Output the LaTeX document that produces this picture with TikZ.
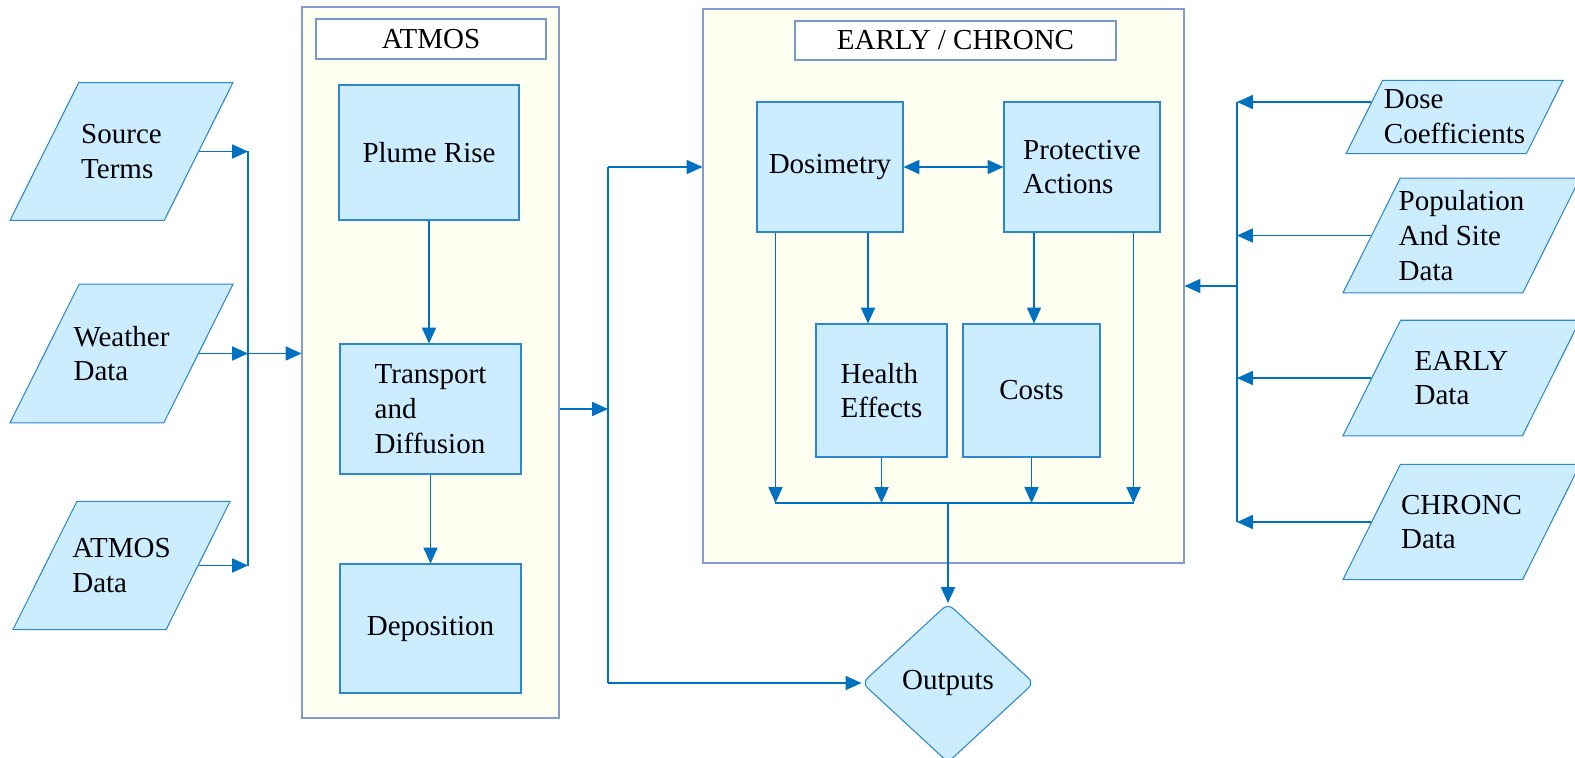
\documentclass[tikz,border=0pt]{standalone}
\usepackage{fontspec}
\setmainfont{Liberation Serif}
\usetikzlibrary{shapes.geometric,arrows.meta}

\definecolor{boxblue}{RGB}{204,236,255}
\definecolor{edgeblue}{RGB}{45,135,205}
\definecolor{lineblue}{RGB}{0,112,192}
\definecolor{panelfill}{RGB}{254,255,240}
\definecolor{panelline}{RGB}{130,155,212}
\definecolor{titleline}{RGB}{120,152,198}

\begin{document}
\begin{tikzpicture}[y=-1cm,
    font=\fontsize{16.5}{19.8}\selectfont,
    box/.style={draw=edgeblue,fill=boxblue,line width=0.6pt,align=left,inner sep=2pt},
    % height comes from inner ysep, so that the slant stays the same
    datain/.style={box,trapezium,trapezium left angle=63.5,trapezium right angle=116.5,
        trapezium stretches body,inner xsep=-5pt,inner ysep=#1},
    panel/.style={draw=panelline,fill=panelfill,line width=0.6pt},
    title/.style={draw=titleline,fill=white,line width=1pt},
    lin/.style={lineblue,line width=0.8pt},
    arr/.style={lin,-{Triangle[length=9pt,width=8pt]}},
    dbl/.style={lin,{Triangle[length=9pt,width=8pt]}-{Triangle[length=9pt,width=8pt]}}]
    \useasboundingbox (0,0) rectangle (31.5,15.16);

    % Panels:
    \node[panel,minimum width=5.14cm,minimum height=14.22cm] (atm) at (8.61,7.25) {};
    \node[panel,minimum width=9.62cm,minimum height=11.08cm] (ecc) at (18.87,5.72) {};
    \node[title,minimum width=4.60cm,minimum height=0.80cm] (atmt) at (8.62,0.78) {ATMOS};
    \node[title,minimum width=6.42cm,minimum height=0.78cm] (ecct) at (19.11,0.81) {EARLY / CHRONC};

    % Input data on the left:
    \node[datain=23.8pt,minimum width=4.46cm] (src) at (2.43,3.03) {Source\\Terms};
    \node[datain=23.75pt,minimum width=4.46cm] (wea) at (2.43,7.07) {Weather\\Data};
    \node[datain=21pt,minimum width=4.34cm] (atd) at (2.43,11.31) {ATMOS\\Data};

    % Input data on the right:
    \node[datain=5.5pt,minimum width=4.34cm] (dose) at (29.09,2.34) {Dose\\Coefficients};
    \node[datain=7.05pt,minimum width=4.74cm] (pop) at (29.23,4.71) {Population\\And Site\\Data};
    \node[datain=17.45pt,minimum width=4.74cm] (early) at (29.23,7.56) {EARLY\\Data};
    \node[datain=17.3pt,minimum width=4.74cm] (chronc) at (29.23,10.44) {CHRONC\\Data};

    % ATMOS steps:
    \node[box,minimum width=3.60cm,minimum height=2.70cm] (plu) at (8.58,3.05) {Plume Rise};
    \node[box,minimum width=3.62cm,minimum height=2.60cm] (tra) at (8.61,8.18) {Transport\\and\\Diffusion};
    \node[box,minimum width=3.62cm,minimum height=2.58cm] (dep) at (8.61,12.57) {Deposition};

    % EARLY / CHRONC steps:
    \node[box,minimum width=2.92cm,minimum height=2.60cm] (dos) at (16.60,3.34) {Dosimetry};
    \node[box,minimum width=3.12cm,minimum height=2.60cm] (pro) at (21.64,3.34) {Protective\\Actions};
    \node[box,minimum width=2.62cm,minimum height=2.66cm] (hea) at (17.63,7.81) {Health\\Effects};
    \node[box,minimum width=2.74cm,minimum height=2.66cm] (cos) at (20.63,7.81) {Costs};

    \node[box,diamond,aspect=1.08,minimum width=3.44cm,minimum height=3.18cm,
        rounded corners=4pt,inner sep=0pt] (out) at (18.96,13.66) {Outputs};

    % Buses:
    \coordinate (lbus) at (4.96,0);
    \coordinate (mbus) at (12.16,0);
    \coordinate (rbus) at (24.74,0);
    \coordinate (bbus) at (0,10.06);
    \coordinate (dl) at ([xshift=0.38cm]dos.south west);
    \coordinate (pr) at ([xshift=-0.54cm]pro.south east);
    \coordinate (dosein) at ([xshift=0.15cm,yshift=0.3cm]dose.west);

    % left inputs into ATMOS
    \foreach \n in {src,wea,atd}
        \draw[arr] (\n.east) -- (\n.east -| lbus);
    \draw[lin] (src.east -| lbus) -- (atd.east -| lbus);
    \draw[arr] (wea.east -| lbus) -- (wea.east -| atm.west);

    % ATMOS chain
    \draw[arr] (plu.south) -- (plu.south |- tra.north);
    \draw[arr] (tra.south) -- (dep.north);

    % ATMOS to EARLY / CHRONC and outputs
    \draw[arr] (tra -| atm.east) -- (tra -| mbus);
    \draw[lin] (mbus |- dos) -- (mbus |- out);
    \draw[arr] (mbus |- dos) -- (dos -| ecc.west);
    \draw[arr] (mbus |- out) -- (out.west);

    % inside EARLY / CHRONC
    \draw[dbl] (dos.east) -- (pro.west);
    \draw[arr] ([xshift=0.76cm]dos.south) coordinate (dh) -- (dh |- hea.north);
    \draw[arr] ([xshift=-0.96cm]pro.south) coordinate (pc) -- (pc |- cos.north);
    \draw[arr] (dl) -- (dl |- bbus);
    \draw[arr] (pr) -- (pr |- bbus);
    \foreach \n in {hea,cos}
        \draw[arr] (\n.south) -- (\n.south |- bbus);
    \draw[lin] (dl |- bbus) -- (pr |- bbus);
    \draw[arr] (out.north |- bbus) -- (out.north);

    % right inputs into EARLY / CHRONC
    \draw[arr] (dosein) -- (dosein -| rbus);
    \foreach \n in {pop,early,chronc}
        \draw[arr] (\n.west) -- (\n.west -| rbus);
    \draw[lin] (dosein -| rbus) -- (chronc.west -| rbus);
    \draw[arr] (ecc.east -| rbus) -- (ecc.east);
\end{tikzpicture}
\end{document}
